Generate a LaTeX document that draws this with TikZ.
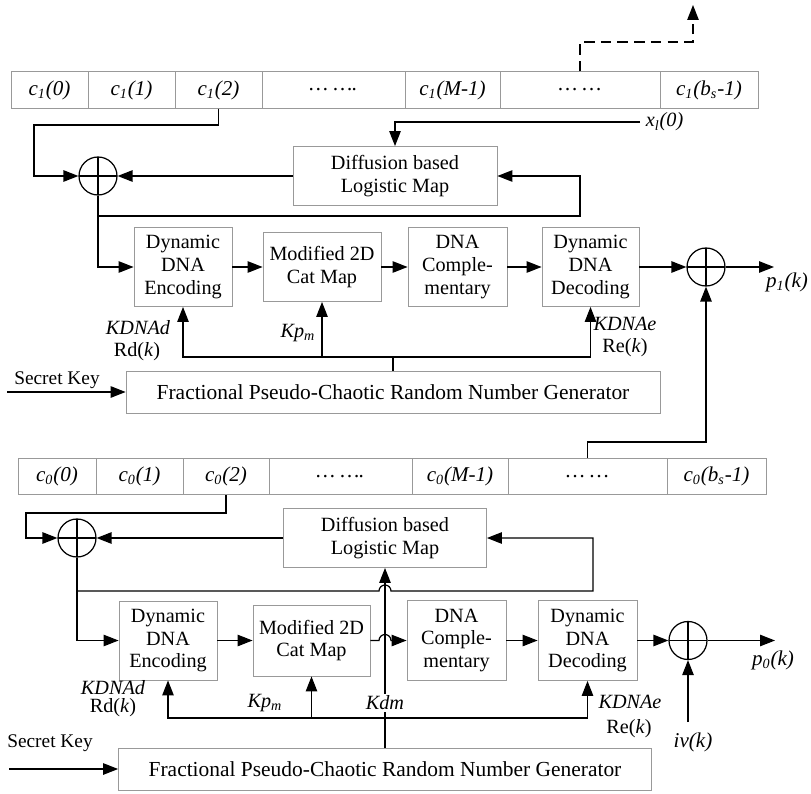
\documentclass[tikz,border=0pt]{standalone}
\usepackage{fontspec}
\setmainfont{Liberation Serif}
\usetikzlibrary{arrows.meta}

\begin{document}
\begin{tikzpicture}[x=0.02cm, y=-0.02cm, ->, >={Triangle[length=8.5pt,width=6.5pt]}, line width=0.7pt,
  block node/.style={draw=gray!80, line width=0.5pt, align=center, inner sep=0pt, font=\fontsize{11.5}{13}\selectfont},
  cell node/.style={draw=gray!80, line width=0.5pt, inner sep=0pt, minimum height=0.73cm, font=\fontsize{12}{14}\selectfont\itshape},
  xor node/.style={circle, draw, inner sep=0pt, minimum size=0.76cm,
    path picture={\draw[-] (path picture bounding box.north) -- (path picture bounding box.south)
      (path picture bounding box.west) -- (path picture bounding box.east);}},
  key node/.style={font=\fontsize{11.5}{13}\selectfont, inner sep=1pt}]
  \useasboundingbox (0,0) rectangle (811,794);

  % registers
  \foreach \name/\xa/\xb/\txt in {c1-0/11/88/{c\textsubscript{1}(0)}, c1-1/88/175/{c\textsubscript{1}(1)},
      c1-2/175/262/{c\textsubscript{1}(2)}, c1-3/262/405/{\ldots\ \ldots.}, c1-4/405/500/{c\textsubscript{1}(M-1)},
      c1-5/500/660/{\ldots\ \ldots}, c1-6/660/758/{c\textsubscript{1}(b\textsubscript{s}-1)}}
    \node[cell node, minimum width={(\xb-\xa)*0.02cm}] (\name) at ({(\xa+\xb)/2},90) {\txt};
  \foreach \name/\xa/\xb/\txt in {c0-0/18/96/{c\textsubscript{0}(0)}, c0-1/96/183/{c\textsubscript{0}(1)},
      c0-2/183/269/{c\textsubscript{0}(2)}, c0-3/269/412/{\ldots\ \ldots.}, c0-4/412/508/{c\textsubscript{0}(M-1)},
      c0-5/508/667/{\ldots\ \ldots}, c0-6/667/766/{c\textsubscript{0}(b\textsubscript{s}-1)}}
    \node[cell node, minimum width={(\xb-\xa)*0.02cm}] (\name) at ({(\xa+\xb)/2},476.5) {\txt};

  % upper round
  \node[xor node] (xor1a) at (98,176) {};
  \node[block node, minimum width=4.08cm, minimum height=1.18cm] (dif1) at (395,176) {Diffusion based\\Logistic Map};
  \node[block node, minimum width=1.96cm, minimum height=1.58cm] (enc1) at (183,267) {Dynamic\\DNA\\Encoding};
  \node[block node, minimum width=2.36cm, minimum height=1.38cm] (cat1) at (322,267) {Modified 2D\\Cat Map};
  \node[block node, minimum width=1.98cm, minimum height=1.58cm] (comp1) at (457.5,267) {DNA\\Comple-\\mentary};
  \node[block node, minimum width=1.94cm, minimum height=1.58cm] (dec1) at (590.5,267) {Dynamic\\DNA\\Decoding};
  \node[xor node] (xor1b) at (706,267) {};
  \node[block node, minimum width=10.68cm, minimum height=0.84cm, font=\fontsize{12.2}{14}\selectfont] (gen1) at (393,392) {Fractional Pseudo-Chaotic Random Number Generator};
  \node[key node, anchor=west, inner sep=3pt] (x1) at (640,122) {\textit{x\textsubscript{l}(0)}};
  \node[key node, font=\fontsize{12}{14}\selectfont] (p1) at (787,282) {\textit{p\textsubscript{1}(k)}};
  \coordinate (p1end) at (774,267);
  \coordinate (k1) at (393,357);
  \coordinate (sk1) at (7,392);
  \coordinate (out1) at (693,5);
  \node[key node, font=\fontsize{11}{13}\selectfont] (key1) at (57,380) {Secret Key};
  \node[key node] (kd1) at (138,328) {\textit{KDNAd}};
  \node[key node] (rd1) at (137,352) {Rd(\textit{k})};
  \node[key node] (kp1) at (298,333) {\textit{Kp\textsubscript{m}}};
  \node[key node] (ke1) at (625,324) {\textit{KDNAe}};
  \node[key node] (re1) at (625,348) {Re(\textit{k})};

  \draw[dash pattern=on 6pt off 3.5pt] (c1-5.north) |- (693,42) -- (out1);
  \draw (c1-2.south) |- (34,125) |- (xor1a.west);
  \draw (x1.west) -| (dif1.north);
  \draw (dif1.west) -- (xor1a.east);
  \draw (xor1a.south) |- (580,216) |- (dif1.east);
  \draw (xor1a.south) |- (enc1.west);
  \draw (enc1) -- (cat1);
  \draw (cat1) -- (comp1);
  \draw (comp1) -- (dec1);
  \draw (dec1) -- (xor1b);
  \draw (xor1b) -- (p1end);
  \draw[-] (gen1.north) -- (k1);
  \draw (k1) -| (enc1.south);
  \draw (cat1.south |- k1) -- (cat1.south);
  \draw (k1) -| (dec1.south);
  \draw (sk1) -- (gen1.west);

  % lower round
  \node[xor node] (xor0a) at (77,538) {};
  \node[block node, minimum width=4.06cm, minimum height=1.18cm] (dif0) at (385,538) {Diffusion based\\Logistic Map};
  \node[block node, minimum width=1.96cm, minimum height=1.58cm] (enc0) at (168,640.5) {Dynamic\\DNA\\Encoding};
  \node[block node, minimum width=2.34cm, minimum height=1.42cm] (cat0) at (311.5,640.5) {Modified 2D\\Cat Map};
  \node[block node, minimum width=1.98cm, minimum height=1.6cm] (comp0) at (456.5,640.5) {DNA\\Comple-\\mentary};
  \node[block node, minimum width=1.98cm, minimum height=1.6cm] (dec0) at (587.5,640.5) {Dynamic\\DNA\\Decoding};
  \node[xor node] (xor0b) at (688,640.5) {};
  \node[block node, minimum width=10.66cm, minimum height=0.84cm, font=\fontsize{12.2}{14}\selectfont] (gen0) at (385,769) {Fractional Pseudo-Chaotic Random Number Generator};
  \node[key node, font=\fontsize{12}{14}\selectfont] (p0) at (773,660) {\textit{p\textsubscript{0}(k)}};
  \node[key node, font=\fontsize{12}{14}\selectfont] (iv) at (693,742) {\textit{iv(k)}};
  \coordinate (p0end) at (775,640.5);
  \coordinate (iv0) at (688,722);
  \coordinate (k0) at (385,718);
  \coordinate (sk0) at (9,769);
  \node[key node, font=\fontsize{11}{13}\selectfont] (key0) at (50,743) {Secret Key};
  \node[key node] (kd0) at (113,688) {\textit{KDNAd}};
  \node[key node] (rd0) at (113,708) {Rd(\textit{k})};
  \node[key node] (kp0) at (265,703) {\textit{Kp\textsubscript{m}}};
  \node[key node] (ke0) at (630,702) {\textit{KDNAe}};
  \node[key node] (re0) at (629,729) {Re(\textit{k})};

  \draw (c0-2.south) |- (26,513) |- (xor0a.west);
  \draw (dif0.west) -- (xor0a.east);
  \draw (xor0a.south) -- (77,591) -- (379,591) arc[start angle=180, end angle=0, radius=0.12cm] -- (593,591) |- (dif0.east);
  \draw (xor0a.south) |- (enc0.west);
  \draw (enc0) -- (cat0);
  \draw (cat0.east) -- (379,640.5) arc[start angle=180, end angle=0, radius=0.12cm] -- (comp0.west);
  \draw (comp0) -- (dec0);
  \draw (dec0) -- (xor0b);
  \draw (xor0b) -- (p0end);
  \draw (iv0) -- (xor0b.south);
  \draw (c0-5.north) |- (706,442) -- (xor1b.south);
  \draw (gen0.north) -- (dif0.south);
  \node[key node, fill=white] (kdm) at (385,703) {\textit{Kdm}};
  \draw (k0) -| (enc0.south);
  \draw (cat0.south |- k0) -- (cat0.south);
  \draw (k0) -| (dec0.south);
  \draw (sk0) -- (gen0.west);
\end{tikzpicture}
\end{document}
